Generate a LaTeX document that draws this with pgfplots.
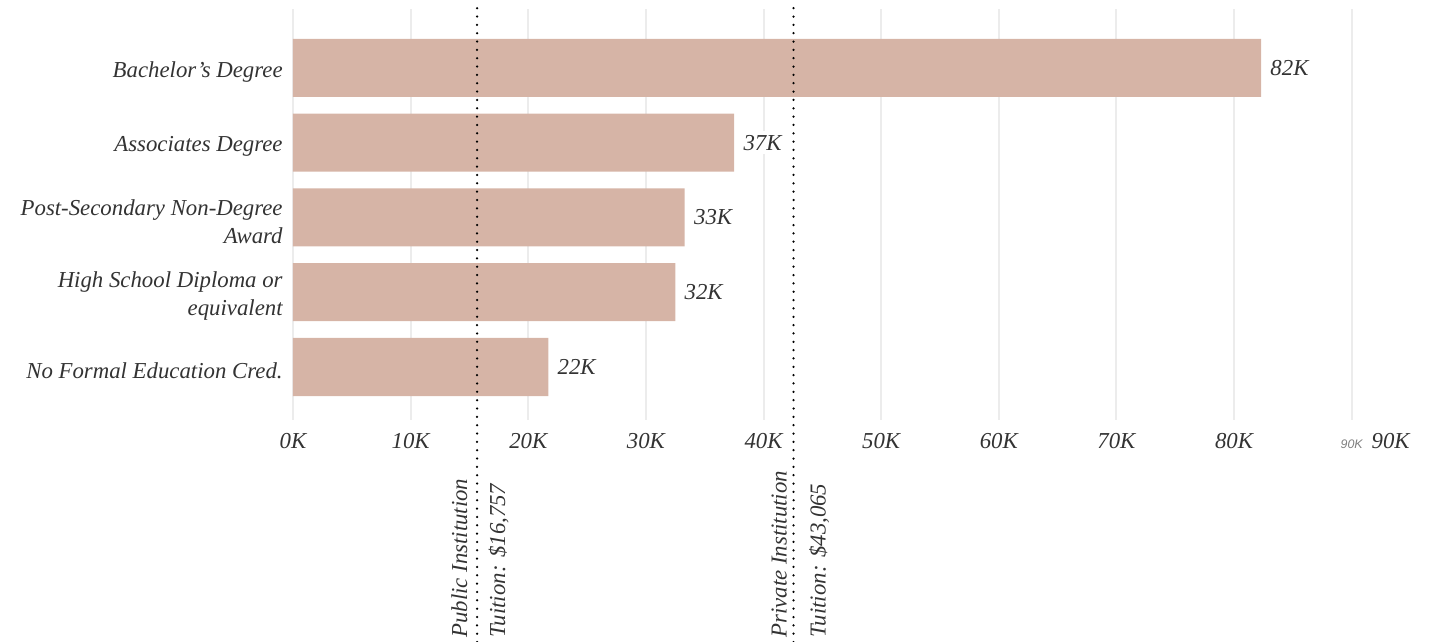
\documentclass[border=0pt]{standalone}
\usepackage{pgfplots}
\pgfplotsset{compat=1.18}
\usepackage{pgfplotstable}
\usepackage{fontspec}
\setmainfont{Liberation Serif}
\newfontfamily\smallsans{Liberation Sans}
\definecolor{barcol}{RGB}{214,180,166}
\definecolor{txt}{RGB}{51,51,51}
\definecolor{gridcol}{RGB}{236,236,236}

\pgfplotstableread{
y x lab
0 21700 22K
1 32500 32K
2 33300 33K
3 37500 37K
4 82300 82K
}\data

\begin{document}
\begin{tikzpicture}
\useasboundingbox (-146.5pt,-111pt) rectangle (570.5pt,210pt);
\begin{axis}[
  scale only axis,
  width=570.5pt, height=205.5pt,
  xmin=0, xmax=97000,
  ymin=-0.709, ymax=4.789,
  clip=false,
  axis line style={draw=none},
  tick style={draw=none},
  major tick length=0pt,
  xmajorgrids,
  grid style={color=gridcol, line width=1pt},
  xtick={0,10000,20000,30000,40000,50000,60000,70000,80000,90000},
  xticklabels={0K,10K,20K,30K,40K,50K,60K,70K,80K,{\makebox[0pt]{\smallsans\fontsize{6.2}{7}\selectfont\color{gray}90K}\makebox[0pt][l]{\hspace{10pt}90K}}},
  scaled x ticks=false,
  xticklabel style={anchor=base, yshift=-14pt, font=\fontsize{11.4}{14}\selectfont\itshape, text=txt},
  ytick={0,1,2,3,4},
  yticklabels={No Formal Education Cred.,{High School Diploma or\\equivalent},{Post-Secondary Non-Degree\\Award},Associates Degree,Bachelor’s Degree},
  yticklabel style={anchor=east, align=right, inner sep=0pt, xshift=-5pt, yshift=-2pt, font=\fontsize{11.4}{14}\selectfont\itshape, text=txt},
  /pgf/number format/assume math mode=true,
]
\addplot[xbar, bar shift=0pt, bar width=0.776, fill=barcol, draw=none,
  point meta=explicit symbolic,
  nodes near coords,
  nodes near coords style={anchor=west, fill=white, inner sep=2pt, xshift=2.5pt, font=\fontsize{11.4}{14}\selectfont\itshape, text=txt}]
  table[x=x, y=y, meta=lab] {\data};
\addplot[black, line width=1.25pt, dash pattern=on 0pt off 4.17pt, line cap=round] coordinates {(15650,-3.679) (15650,4.803)};
\addplot[black, line width=1.25pt, dash pattern=on 0pt off 4.17pt, line cap=round] coordinates {(42550,-3.679) (42550,4.803)};
\node[rotate=90, anchor=base west, inner sep=0pt, font=\fontsize{11.4}{14}\selectfont\itshape, text=txt] at ([xshift=-5pt]axis cs:15650,-3.625) {Public Institution};
\node[rotate=90, anchor=base west, inner sep=0pt, font=\fontsize{11.4}{14}\selectfont\itshape, text=txt] at ([xshift=14pt]axis cs:15650,-3.625) {Tuition: \$16,757};
\node[rotate=90, anchor=base west, inner sep=0pt, font=\fontsize{11.4}{14}\selectfont\itshape, text=txt] at ([xshift=-3.5pt]axis cs:42550,-3.625) {Private Institution};
\node[rotate=90, anchor=base west, inner sep=0pt, font=\fontsize{11.4}{14}\selectfont\itshape, text=txt] at ([xshift=16pt]axis cs:42550,-3.625) {Tuition: \$43,065};
\end{axis}
\end{tikzpicture}
\end{document}
